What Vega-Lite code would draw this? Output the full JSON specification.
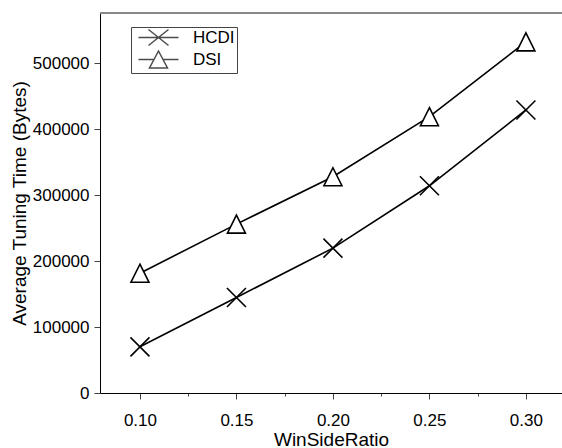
{
  "$schema": "https://vega.github.io/schema/vega-lite/v6.json",
  "autosize": {"type": "none"},
  "padding": {"left": 100, "top": 13, "right": 0, "bottom": 55},
  "width": 462,
  "height": 380,
  "background": "white",
  "config": {
    "view": {"stroke": null},
    "font": "Liberation Sans",
    "axis": {"labelFont": "Liberation Sans", "titleFont": "Liberation Sans", "labelColor": "black", "titleColor": "black", "titleFontWeight": "normal", "grid": false, "domainColor": "black", "tickColor": "#444", "labelFontSize": 17, "titleFontSize": 19}
  },
  "data": {
    "values": [
      {"ratio": 0.10, "series": "HCDI", "value": 70000},
      {"ratio": 0.15, "series": "HCDI", "value": 144800},
      {"ratio": 0.20, "series": "HCDI", "value": 219600},
      {"ratio": 0.25, "series": "HCDI", "value": 314100},
      {"ratio": 0.30, "series": "HCDI", "value": 429000},
      {"ratio": 0.10, "series": "DSI", "value": 181600},
      {"ratio": 0.15, "series": "DSI", "value": 256000},
      {"ratio": 0.20, "series": "DSI", "value": 327800},
      {"ratio": 0.25, "series": "DSI", "value": 418800},
      {"ratio": 0.30, "series": "DSI", "value": 532200}
    ]
  },
  "layer": [
    {
      "mark": {"type": "rule", "color": "#888", "strokeWidth": 1},
      "encoding": {"y": {"datum": 576000, "type": "quantitative"}}
    },
    {
      "mark": {"type": "line", "color": "black", "strokeWidth": 1.6},
      "encoding": {
        "x": {
          "field": "ratio", "type": "quantitative",
          "scale": {"domain": [0.0793, 0.3187], "nice": false, "zero": false},
          "axis": {
            "title": "WinSideRatio",
            "values": [0.1, 0.125, 0.15, 0.175, 0.2, 0.225, 0.25, 0.275, 0.3],
            "format": ".2f",
            "labelExpr": "abs(datum.value*20 - round(datum.value*20)) < 0.001 ? datum.label : ''",
            "tickSize": {"condition": {"test": "abs(datum.value*20 - round(datum.value*20)) < 0.001", "value": 6}, "value": 3},
            "labelPadding": 13,
            "titlePadding": 2,
            "labelFlush": false
          }
        },
        "y": {
          "field": "value", "type": "quantitative",
          "scale": {"domain": [0, 576000], "nice": false},
          "axis": {
            "title": "Average Tuning Time (Bytes)",
            "values": [0, 50000, 100000, 150000, 200000, 250000, 300000, 350000, 400000, 450000, 500000, 550000],
            "format": "d",
            "labelExpr": "datum.value % 100000 === 0 ? datum.label : ''",
            "tickSize": {"condition": {"test": "datum.value % 100000 === 0", "value": 6}, "value": 3},
            "labelPadding": 5,
            "titlePadding": 3,
            "labelFlush": false
          }
        },
        "detail": {"field": "series"}
      }
    },
    {
      "mark": {"type": "point", "filled": true, "fill": "white", "stroke": "black", "strokeWidth": 1.6, "opacity": 1, "size": 400},
      "encoding": {
        "x": {"field": "ratio", "type": "quantitative"},
        "y": {"field": "value", "type": "quantitative"},
        "shape": {
          "field": "series", "type": "nominal",
          "scale": {"domain": ["HCDI", "DSI"], "range": ["M-0.95,-0.95L0.95,0.95M-0.95,0.95L0.95,-0.95", "M0,-0.9L0.9,0.9L-0.9,0.9Z"]},
          "legend": null
        }
      }
    },
    {
      "transform": [{"filter": "datum.value < 0"}],
      "mark": {"type": "point", "filled": true, "fill": "white", "stroke": "black", "strokeWidth": 1.6, "size": 100},
      "encoding": {
        "x": {"field": "ratio", "type": "quantitative"},
        "y": {"field": "value", "type": "quantitative"},
        "shape": {
          "field": "series", "type": "nominal",
          "scale": {"domain": ["HCDI", "DSI"], "range": ["M-4,0H4M-2,-1.6L2,1.6M-2,1.6L2,-1.6", "M-4,0H-0.85M0.85,0H4M0,-1.7L1.8,1.7L-1.8,1.7Z"]},
          "legend": {
            "title": null,
            "orient": "none",
            "legendX": 31,
            "legendY": 14,
            "symbolSize": 100,
            "symbolOffset": 17,
            "labelFont": "Liberation Sans",
            "labelFontSize": 17,
            "labelColor": "black",
            "labelOffset": 26,
            "rowPadding": -1,
            "padding": 2,
            "strokeColor": "#444",
            "fillColor": "white",
            "encode": {
              "symbols": {
                "update": {
                  "fill": {"value": "white"},
                  "stroke": {"value": "black"},
                  "strokeWidth": {"value": 1.6},
                  "opacity": {"value": 1},
                  "fillOpacity": {"value": 1},
                  "strokeOpacity": {"value": 1}
                }
              }
            }
          }
        }
      }
    }
  ],
  "resolve": {"scale": {"shape": "independent"}, "legend": {"shape": "independent"}}
}
